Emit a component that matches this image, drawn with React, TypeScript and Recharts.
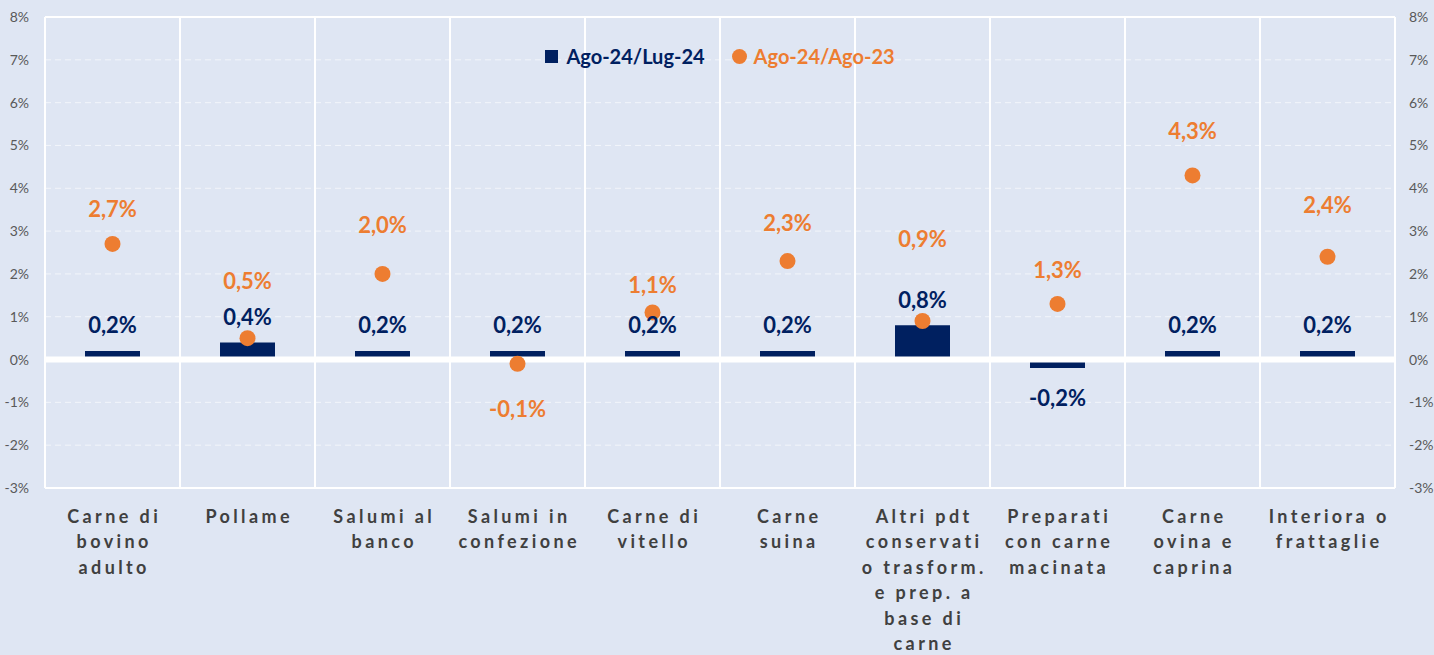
import React from "react";
import {
  ComposedChart,
  Bar,
  Line,
  XAxis,
  YAxis,
  CartesianGrid,
  ReferenceLine,
  LabelList,
} from "recharts";

const categories = [
  "Carne di bovino adulto",
  "Pollame",
  "Salumi al banco",
  "Salumi in confezione",
  "Carne di vitello",
  "Carne suina",
  "Altri pdt conservati o trasform. e prep. a base di carne",
  "Preparati con carne macinata",
  "Carne ovina e caprina",
  "Interiora o frattaglie",
];

const tickLines = [
  ["Carne di", "bovino", "adulto"],
  ["Pollame"],
  ["Salumi al", "banco"],
  ["Salumi in", "confezione"],
  ["Carne di", "vitello"],
  ["Carne", "suina"],
  ["Altri pdt", "conservati", "o trasform.", "e prep. a", "base di", "carne"],
  ["Preparati", "con carne", "macinata"],
  ["Carne", "ovina e", "caprina"],
  ["Interiora o", "frattaglie"],
];

const monthly = [0.2, 0.4, 0.2, 0.2, 0.2, 0.2, 0.8, -0.2, 0.2, 0.2];
const yearly = [2.7, 0.5, 2.0, -0.1, 1.1, 2.3, 0.9, 1.3, 4.3, 2.4];
const yTicks = [-3, -2, -1, 0, 1, 2, 3, 4, 5, 6, 7, 8];

const seriesNames = ["Ago-24/Lug-24", "Ago-24/Ago-23"];

// manual label placement (px from the dot centre), as in the original
const dotLabelDy = [-35, -58, -49, 45, -28, -39, -83, -34, -45, -52];

const NAVY = "#002060";
const ORANGE = "#ED7D31";
const BG = "#DFE6F3";
const FONT = "Lato, 'Noto Sans', sans-serif";

const data = categories.map((c, i) => ({
  name: c,
  monthly: monthly[i],
  yearly: yearly[i],
}));

const fmt = (v: number) => v.toFixed(1).replace(".", ",") + "%";

const XTick = (props: any) => {
  const { x, y, index } = props;
  const lines = tickLines[index] || [];
  return (
    <text
      x={x}
      y={y}
      textAnchor="middle"
      fill="#404040"
      fontFamily={FONT}
      fontWeight={700}
      fontSize={18}
      style={{ letterSpacing: "3.4px" }}
    >
      {lines.map((l, i) => (
        <tspan key={i} x={x + 1.7} y={y + 35 + i * 25.4}>
          {l}
        </tspan>
      ))}
    </text>
  );
};

const BarLabel = (props: any) => {
  const { x, y, width, height, value } = props;
  const top = Math.min(y, y + height);
  const bottom = Math.max(y, y + height);
  const cy = value >= 0 ? top - 26 : bottom + 29;
  return (
    <text
      x={x + width / 2}
      y={cy}
      textAnchor="middle"
      dominantBaseline="central"
      fill={NAVY}
      fontFamily={FONT}
      fontWeight={700}
      fontSize={22}
    >
      {fmt(value)}
    </text>
  );
};

const DotLabel = (props: any) => {
  const { x, y, value, index } = props;
  return (
    <text
      x={x}
      y={y + dotLabelDy[index]}
      textAnchor="middle"
      dominantBaseline="central"
      fill={ORANGE}
      fontFamily={FONT}
      fontWeight={700}
      fontSize={22}
    >
      {fmt(value)}
    </text>
  );
};

const LegendBox = () => (
  <div
    style={{
      position: "absolute",
      top: 44,
      left: 0,
      width: 1434,
      display: "flex",
      justifyContent: "center",
      alignItems: "center",
      fontFamily: FONT,
      fontWeight: 700,
      fontSize: 20,
      paddingLeft: 3,
      lineHeight: "24px",
    }}
  >
    <span
      style={{
        display: "inline-block",
        width: 13,
        height: 13,
        background: NAVY,
        marginRight: 8,
      }}
    />
    <span style={{ color: NAVY }}>{seriesNames[0]}</span>
    <span
      style={{
        display: "inline-block",
        width: 15,
        height: 15,
        borderRadius: "50%",
        background: ORANGE,
        marginLeft: 27,
        marginRight: 7,
      }}
    />
    <span style={{ color: ORANGE }}>{seriesNames[1]}</span>
  </div>
);

export default function App() {
  return (
    <div
      style={{
        position: "absolute",
        left: 0,
        top: 0,
        width: 1434,
        height: 655,
        background: BG,
        overflow: "hidden",
      }}
    >
      <ComposedChart
        width={1434}
        height={655}
        data={data}
        margin={{ top: 17, right: 0, left: 0, bottom: 0 }}
      >
        <CartesianGrid
          vertical={false}
          horizontal={true}
          stroke="#F2F5FA"
          strokeDasharray="6 4"
          yAxisId="left"
        />
        <CartesianGrid
          horizontal={false}
          vertical={true}
          stroke="#FFFFFF"
          strokeWidth={2}
          verticalCoordinatesGenerator={({ offset }: any) =>
            categories
              .concat([""])
              .map((_, i) => offset.left + (i * offset.width) / categories.length)
          }
          yAxisId="left"
        />
        <XAxis
          dataKey="name"
          axisLine={false}
          tickLine={false}
          tickSize={0}
          tickMargin={0}
          height={167}
          interval={0}
          tick={<XTick />}
        />
        <YAxis
          yAxisId="left"
          domain={[-3, 8]}
          ticks={yTicks}
          width={45}
          axisLine={false}
          tickLine={false}
          tickSize={0}
          tickMargin={16}
          tickFormatter={(v: number) => `${v}%`}
          tick={{ fill: "#595959", fontSize: 14, fontFamily: FONT }}
        />
        <YAxis
          yAxisId="right"
          orientation="right"
          domain={[-3, 8]}
          ticks={yTicks}
          width={39}
          axisLine={false}
          tickLine={false}
          tickSize={0}
          tickMargin={14}
          tickFormatter={(v: number) => `${v}%`}
          tick={{ fill: "#595959", fontSize: 14, fontFamily: FONT }}
        />
        <ReferenceLine yAxisId="left" y={8} stroke="#FFFFFF" strokeWidth={2} />
        <ReferenceLine yAxisId="left" y={-3} stroke="#FFFFFF" strokeWidth={2} />
        <Bar
          yAxisId="left"
          dataKey="monthly"
          name={seriesNames[0]}
          fill={NAVY}
          barSize={55}
          isAnimationActive={false}
        >
          <LabelList dataKey="monthly" content={<BarLabel />} />
        </Bar>
        <ReferenceLine yAxisId="left" y={0} stroke="#FFFFFF" strokeWidth={6} />
        <Line
          yAxisId="right"
          dataKey="yearly"
          name={seriesNames[1]}
          stroke="none"
          strokeWidth={0}
          dot={{ r: 8, fill: ORANGE, stroke: "none" }}
          activeDot={false}
          isAnimationActive={false}
        >
          <LabelList dataKey="yearly" content={<DotLabel />} />
        </Line>
      </ComposedChart>
      <LegendBox />
    </div>
  );
}
